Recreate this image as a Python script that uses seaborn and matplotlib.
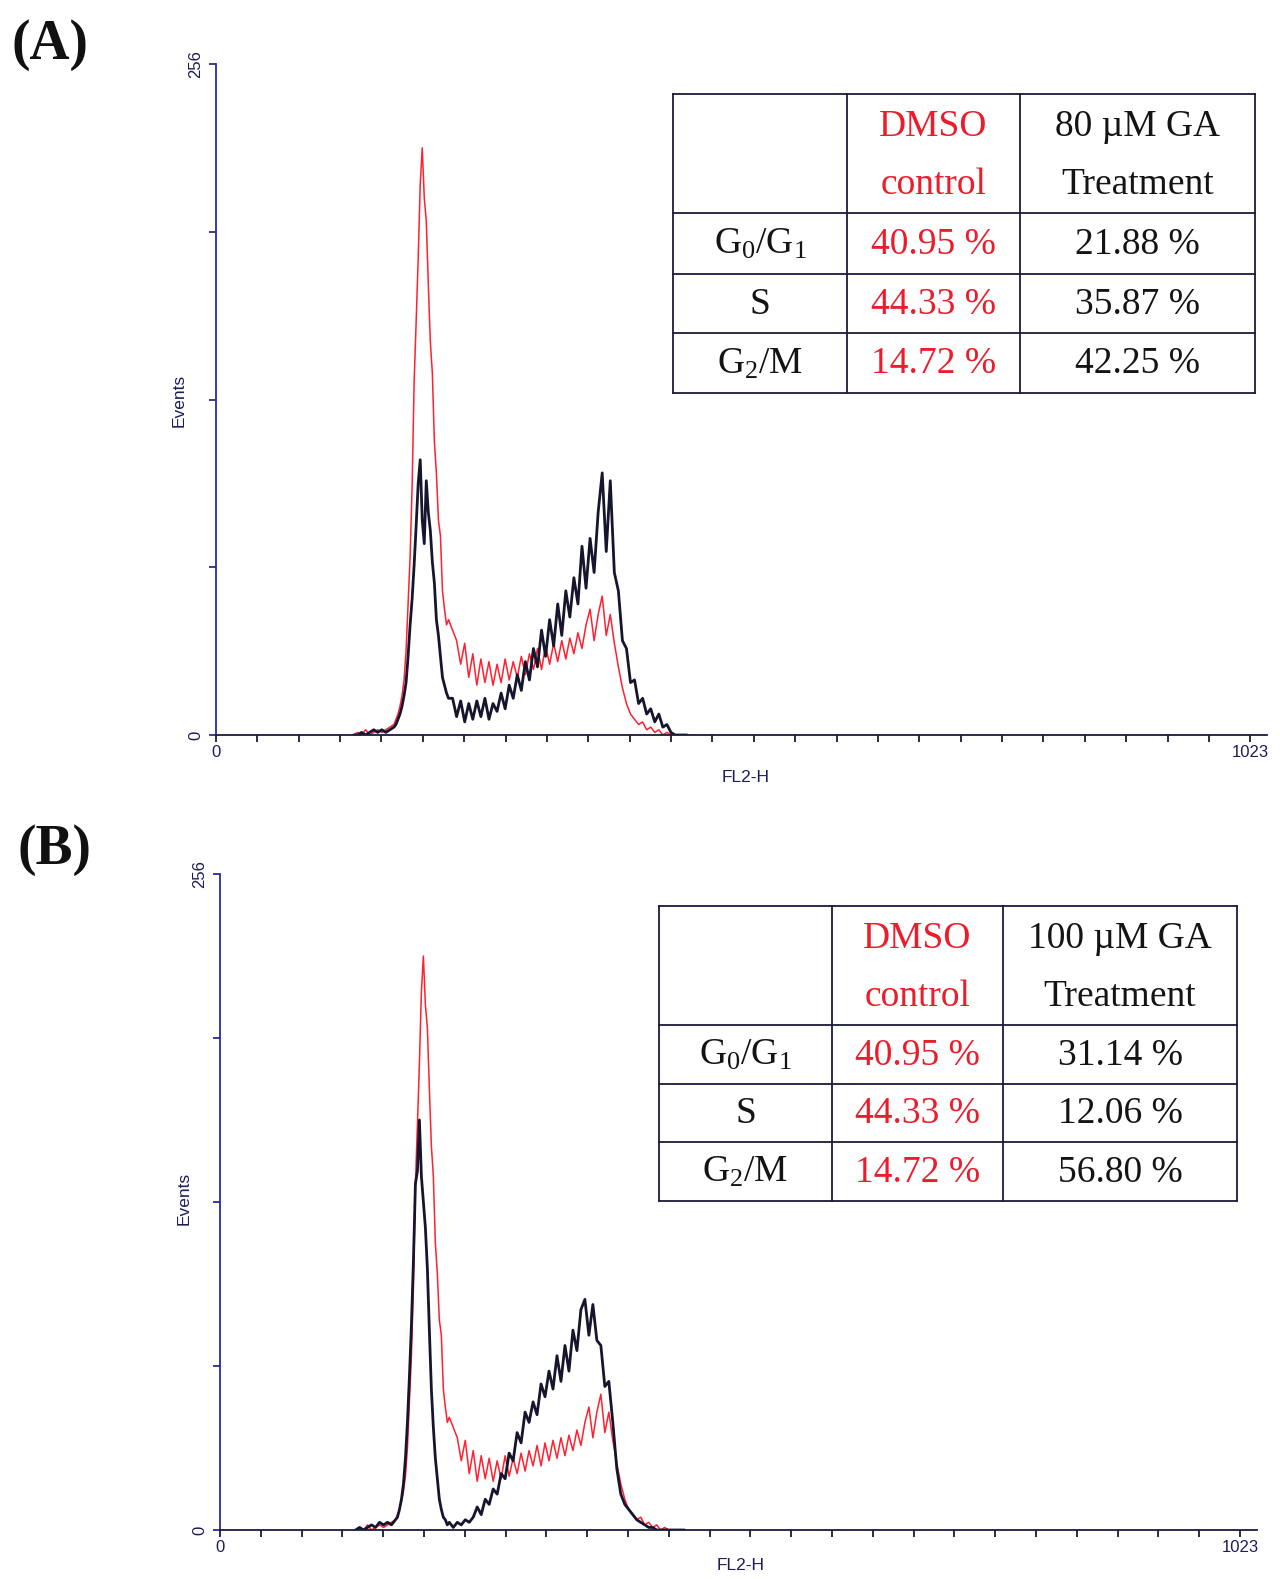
import numpy as np
import pandas as pd
import matplotlib
matplotlib.use("Agg")
import matplotlib.pyplot as plt
import seaborn as sns

# ---------------- data ----------------
channels = [136, 140, 144, 148, 152, 156, 160, 164, 168, 172, 176,
            178, 180, 182, 184, 186, 188, 190, 192, 194, 196, 198, 200, 202, 204,
            206, 208, 210, 212, 214, 216, 218, 220, 222, 224, 226, 228, 230,
            234, 238, 242, 246, 250, 254, 258, 262, 266, 270, 274, 278, 282, 286,
            290, 294, 298, 302, 306, 310, 314, 318, 322, 326, 330, 334, 338, 342,
            346, 350, 354, 358, 362, 366, 370, 374, 378, 382, 386, 390, 394, 398,
            402, 406, 410, 414, 418, 422, 426, 430, 434, 438, 442, 446, 450, 454,
            458, 462, 466]

# DMSO control (same control in both panels)
dmso_control = [0, 1, 0, 2, 0, 1, 2, 1, 2, 3, 4,
                6, 8, 11, 15, 21, 32, 50, 68, 95, 135, 158, 182, 210, 224,
                205, 196, 172, 150, 138, 112, 100, 82, 76, 55, 48, 42, 44,
                40, 36, 27, 35, 22, 31, 19, 29, 20, 28, 19, 27, 20, 29,
                21, 28, 22, 30, 23, 31, 25, 33, 25, 34, 27, 35, 28, 36,
                29, 37, 31, 39, 33, 42, 48, 36, 46, 53, 38, 46, 35, 26,
                18, 12, 8, 6, 4, 5, 2, 3, 1, 2, 0, 1, 0, 0,
                0, 0, 0]

# 80 uM GA treatment (panel A)
ga_80 = [0, 0, 1, 0, 1, 2, 1, 2, 1, 2, 3,
         4, 6, 8, 11, 15, 20, 30, 42, 52, 65, 80, 96, 105, 82,
         73, 97, 85, 78, 66, 58, 44, 38, 30, 22, 19, 16, 14,
         14, 7, 13, 5, 12, 6, 13, 7, 14, 6, 12, 9, 16, 10,
         19, 14, 23, 17, 28, 21, 33, 26, 40, 30, 44, 34, 50, 38,
         55, 45, 60, 50, 72, 56, 75, 62, 85, 100, 70, 97, 62, 55,
         36, 33, 20, 21, 12, 14, 8, 10, 5, 8, 3, 4, 1, 0,
         0, 0, 0]

# 100 uM GA treatment (panel B)
ga_100 = [0, 1, 0, 1, 2, 1, 3, 2, 3, 2, 4,
          5, 8, 12, 18, 28, 42, 60, 80, 105, 135, 140, 160, 138, 128,
          118, 102, 78, 55, 40, 28, 20, 12, 8, 5, 4, 2, 3,
          1, 3, 2, 4, 3, 5, 9, 6, 12, 10, 16, 14, 22, 20,
          30, 27, 38, 34, 46, 42, 50, 45, 57, 52, 62, 55, 68, 58,
          72, 62, 78, 70, 86, 90, 76, 88, 74, 72, 56, 58, 42, 24,
          14, 10, 8, 6, 4, 3, 2, 1, 1, 0, 0, 0, 0, 0,
          0, 0, 0]

row_labels = [r"G$_{0}$/G$_{1}$", "S", r"G$_{2}$/M"]
dmso_pct = ["40.95 %", "44.33 %", "14.72 %"]
ga80_pct = ["21.88 %", "35.87 %", "42.25 %"]
ga100_pct = ["31.14 %", "12.06 %", "56.80 %"]

x_ticks = np.linspace(0, 1023, 26)
x_ticklabels = ["0"] + [""] * 24 + ["1023"]
y_ticks = [0, 64, 128, 192, 256]
y_ticklabels = ["0", "", "", "", "256"]

# ---------------- style ----------------
sns.set_theme(style="white")
plt.rcParams["font.family"] = ["Liberation Sans", "DejaVu Sans"]
plt.rcParams["mathtext.fontset"] = "custom"
plt.rcParams["mathtext.rm"] = "Liberation Serif"
plt.rcParams["mathtext.it"] = "Liberation Serif:italic"
plt.rcParams["mathtext.bf"] = "Liberation Serif:bold"

RED_LINE = "#ff2030"
DARK_LINE = "#15152e"
BLUE_AXIS = "#2b2b9c"
DARK_AXIS = "#1a1a3a"
LABEL_COL = "#1c1c5a"
RED_TXT = "#ec1c2a"
BLK_TXT = "#141414"

W, H = 1280, 1579
fig = plt.figure(figsize=(W / 100, H / 100), dpi=100)
fig.patch.set_facecolor("white")

def px_axes(left, right, top, bottom):
    return [left / W, 1 - bottom / H, (right - left) / W, (bottom - top) / H]

df = pd.DataFrame({"FL2-H": channels, "DMSO": dmso_control,
                   "GA80": ga_80, "GA100": ga_100})

def draw_panel(rect, treat_col):
    ax = fig.add_axes(rect)
    sns.lineplot(data=df, x="FL2-H", y="DMSO", ax=ax, color=RED_LINE,
                 linewidth=1.1, estimator=None, sort=False)
    sns.lineplot(data=df, x="FL2-H", y=treat_col, ax=ax, color=DARK_LINE,
                 linewidth=2.0, estimator=None, sort=False)
    ax.set_xlim(0, 1040)
    ax.set_ylim(0, 256)
    ax.set_xlabel("")
    ax.set_ylabel("")
    for s in ["top", "right"]:
        ax.spines[s].set_visible(False)
    ax.spines["left"].set_color(BLUE_AXIS)
    ax.spines["left"].set_linewidth(1.3)
    ax.spines["bottom"].set_color(DARK_AXIS)
    ax.spines["bottom"].set_linewidth(1.3)
    ax.set_xticks(x_ticks)
    ax.set_xticklabels(x_ticklabels)
    ax.set_yticks(y_ticks)
    ax.set_yticklabels(y_ticklabels, rotation=90, va="center")
    ax.tick_params(axis="x", direction="out", length=5, width=1.3,
                   color=DARK_AXIS, labelsize=12, labelcolor=LABEL_COL, pad=2,
                   bottom=True)
    ax.tick_params(axis="y", direction="out", length=5, width=1.3,
                   color=BLUE_AXIS, labelsize=12, labelcolor=LABEL_COL, pad=4,
                   left=True)
    ax.grid(False)
    ax.patch.set_alpha(0)
    return ax

axA = draw_panel(px_axes(216, 216 + 1040 * 1.011, 64, 735), "GA80")
axB = draw_panel(px_axes(220, 220 + 1040 * 0.997, 874, 1530), "GA100")

# ---------------- overlay for texts and tables ----------------
ov = fig.add_axes([0, 0, 1, 1])
ov.set_xlim(0, W)
ov.set_ylim(H, 0)
ov.axis("off")
ov.patch.set_alpha(0)

SERIF = ["Liberation Serif", "DejaVu Serif"]

ov.text(50, 45, "(A)", fontsize=40, fontweight="bold", family=SERIF,
        ha="center", va="center", color="#111111")
ov.text(54, 850, "(B)", fontsize=40, fontweight="bold", family=SERIF,
        ha="center", va="center", color="#111111")

for (ex, ey), (fx, fy) in [((179, 400), (746, 777)), ((184, 1198), (741, 1566))]:
    ov.text(ex, ey, "Events", rotation=90, fontsize=12.5, ha="center",
            va="center", color=LABEL_COL)
    ov.text(fx, fy, "FL2-H", fontsize=12.5, ha="center", va="center",
            color=LABEL_COL)

def draw_table(xs, ys, treat_title, treat_vals):
    for y in ys:
        ov.plot([xs[0], xs[-1]], [y, y], color=DARK_AXIS, lw=1.3,
                solid_capstyle="projecting")
    for x in xs:
        ov.plot([x, x], [ys[0], ys[-1]], color=DARK_AXIS, lw=1.3,
                solid_capstyle="projecting")
    cx = [(xs[i] + xs[i + 1]) / 2 for i in range(3)]
    hy = (ys[0] + ys[1]) / 2
    fs = 27
    ov.text(cx[1], hy - 27, "DMSO", fontsize=fs, family=SERIF, color=RED_TXT,
            ha="center", va="center")
    ov.text(cx[1], hy + 31, "control", fontsize=fs, family=SERIF, color=RED_TXT,
            ha="center", va="center")
    ov.text(cx[2], hy - 27, treat_title, fontsize=fs, family=SERIF,
            color=BLK_TXT, ha="center", va="center")
    ov.text(cx[2], hy + 31, "Treatment", fontsize=fs, family=SERIF,
            color=BLK_TXT, ha="center", va="center")
    for r in range(3):
        ry = (ys[r + 1] + ys[r + 2]) / 2 + 1
        ov.text(cx[0], ry, row_labels[r], fontsize=fs, family=SERIF,
                color=BLK_TXT, ha="center", va="center")
        ov.text(cx[1], ry, dmso_pct[r], fontsize=fs, family=SERIF,
                color=RED_TXT, ha="center", va="center")
        ov.text(cx[2], ry, treat_vals[r], fontsize=fs, family=SERIF,
                color=BLK_TXT, ha="center", va="center")

draw_table([673, 847, 1020, 1255], [94, 213, 274, 333, 393],
           "80 \u00b5M GA", ga80_pct)
draw_table([659, 832, 1003, 1237], [906, 1025, 1084, 1142, 1201],
           "100 \u00b5M GA", ga100_pct)

fig.savefig("out.png", dpi=100, facecolor="white")
